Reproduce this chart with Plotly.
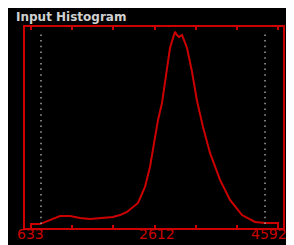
import plotly.graph_objects as go

# Histogram curve (bin centre, relative count)
bins = [633, 633, 777, 938, 1098, 1258, 1418, 1579, 1739, 1947, 2060, 2172, 2348,
        2460, 2540, 2621, 2669, 2733, 2797, 2861, 2909, 2941, 2973, 3005, 3054,
        3086, 3134, 3214, 3294, 3390, 3502, 3663, 3823, 4015, 4224, 4384, 4592, 4592]
counts = [0, 2.0, 2.0, 4.1, 6.1, 6.1, 5.1, 4.6, 5.1, 5.6, 6.6, 8.2, 12.8,
          20.9, 31.1, 44.9, 55.1, 63.8, 77.0, 91.8, 96.9, 100.0, 98.4, 97.4, 98.4,
          95.9, 91.8, 79.6, 64.8, 51.5, 38.3, 24.5, 14.3, 6.6, 3.1, 2.6, 2.6, 0]

x_min, x_max = 633, 4592
tick_labels = ["633", "", "", "2612", "", "", "4592"]
marker_lines = [793, 4384]
title_text = "Input Histogram"

tick_vals = [x_min + i * (x_max - x_min) / 6 for i in range(7)]

RED = "#cc0000"

fig = go.Figure()
fig.add_trace(go.Scatter(x=bins, y=counts, mode="lines",
                         line=dict(color=RED, width=2), hoverinfo="skip"))

shapes = []
for v in marker_lines:
    shapes.append(dict(type="line", xref="x", yref="paper", x0=v, x1=v, y0=0.02, y1=0.97,
                       line=dict(color="#a0a0a0", width=1.5, dash="1.5px,4.2px")))

annotations = [dict(text="<b>" + title_text + "</b>", xref="paper", yref="paper",
                    x=-0.043, y=1.052, xanchor="left", yanchor="middle", showarrow=False,
                    font=dict(family="DejaVu Sans", size=12, color="#d0d0d0"))]
# axis value labels placed at their tick positions (last one nudged to stay inside)
label_shift = {0: 0, 3: 2, 6: -9}
for i, (tv, tl) in enumerate(zip(tick_vals, tick_labels)):
    if tl:
        annotations.append(dict(text=tl, xref="x", yref="paper", x=tv, y=0,
                                xanchor="center", yanchor="top", showarrow=False,
                                xshift=label_shift.get(i, 0), yshift=3, borderpad=0,
                                font=dict(family="DejaVu Sans", size=14, color=RED)))

fig.update_layout(
    width=286, height=237,
    margin=dict(l=17, r=11, t=19, b=17, autoexpand=False),
    paper_bgcolor="black", plot_bgcolor="black",
    showlegend=False,
    shapes=shapes,
    xaxis=dict(range=[537, 4672], tickvals=tick_vals, ticktext=[""] * len(tick_vals),
               automargin=False,
               showgrid=False, zeroline=False, showline=True, linecolor=RED, linewidth=2,
               mirror="ticks", ticks="inside", ticklen=3, tickwidth=1.5, tickcolor=RED),
    yaxis=dict(range=[0, 102.5], showgrid=False, zeroline=False, showticklabels=False,
               automargin=False,
               showline=True, linecolor=RED, linewidth=2, mirror=True, ticks=""),
    annotations=annotations,
)

fig.write_html("out.html")
